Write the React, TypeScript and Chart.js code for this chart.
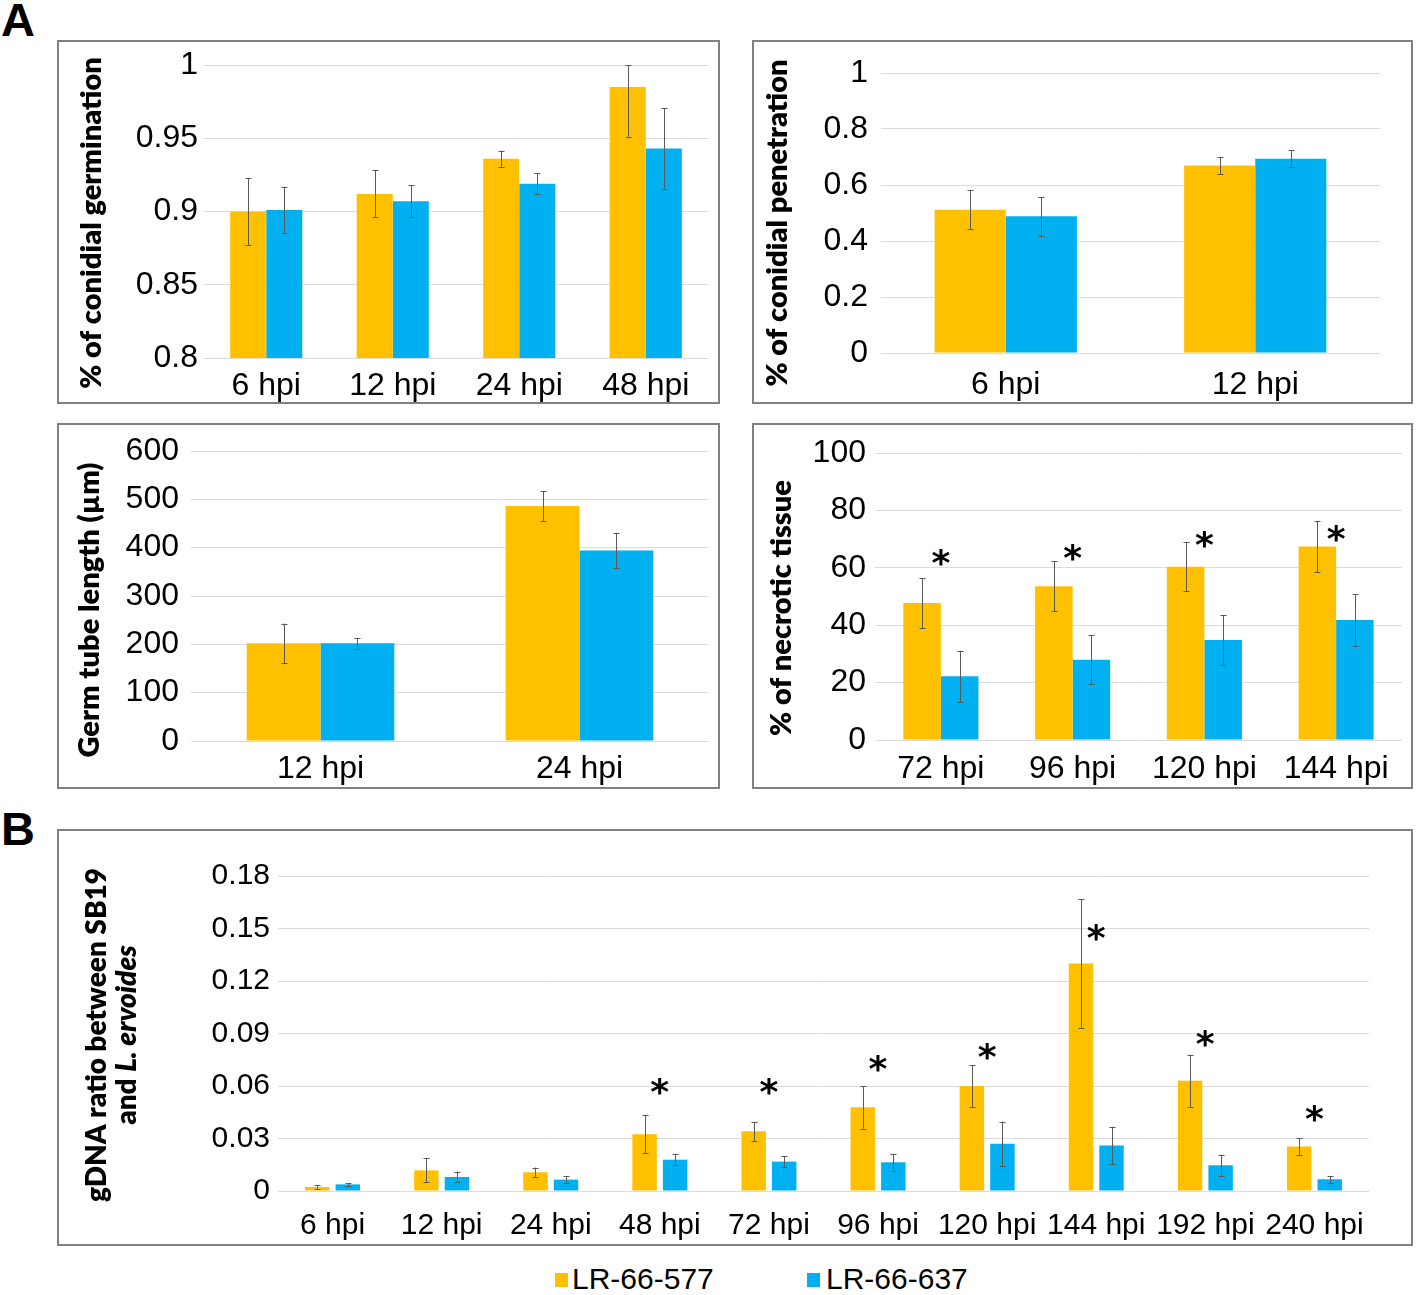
import React, { useEffect, useRef } from 'react';
import { Chart, registerables } from 'chart.js';

Chart.register(...registerables);

// ---------- Series ----------
const seriesNames = ['LR-66-577', 'LR-66-637'];
const seriesColors = ['#FFC000', '#00B0F0'];

// A (top-left): % of conidial germination
const germCategories = ['6 hpi', '12 hpi', '24 hpi', '48 hpi'];
const germ577 = [0.9, 0.912, 0.936, 0.985];
const germ577Err = [0.023, 0.016, 0.0055, 0.034];
const germ637 = [0.901, 0.907, 0.919, 0.943];
const germ637Err = [0.016, 0.011, 0.007, 0.0275];
const germTicks = ['0.8', '0.85', '0.9', '0.95', '1'];

// A (top-right): % of conidial penetration
const penCategories = ['6 hpi', '12 hpi'];
const pen577 = [0.512, 0.67];
const pen577Err = [0.069, 0.031];
const pen637 = [0.488, 0.694];
const pen637Err = [0.07, 0.031];
const penTicks = ['0', '0.2', '0.4', '0.6', '0.8', '1'];

// A (bottom-left): Germ tube length
const tubeCategories = ['12 hpi', '24 hpi'];
const tube577 = [202, 486];
const tube577Err = [41, 31];
const tube637 = [202, 394];
const tube637Err = [11, 37];
const tubeTicks = ['0', '100', '200', '300', '400', '500', '600'];

// A (bottom-right): % of necrotic tissue
const necCategories = ['72 hpi', '96 hpi', '120 hpi', '144 hpi'];
const nec577 = [47.7, 53.6, 60.4, 67.4];
const nec577Err = [8.8, 8.7, 8.6, 9.0];
const nec637 = [22.2, 28.0, 34.8, 41.8];
const nec637Err = [8.9, 8.5, 8.6, 9.0];
const necStars = [63.5, 65.5, 69.7, 72.1];
const necTicks = ['0', '20', '40', '60', '80', '100'];

// B: gDNA ratio
const gdnaCategories = ['6 hpi', '12 hpi', '24 hpi', '48 hpi', '72 hpi', '96 hpi', '120 hpi', '144 hpi', '192 hpi', '240 hpi'];
const gdna577 = [0.0023, 0.0118, 0.0107, 0.0324, 0.0341, 0.0478, 0.06, 0.13, 0.063, 0.0255];
const gdna577Err = [0.001, 0.0069, 0.0027, 0.0108, 0.0054, 0.0122, 0.0118, 0.0366, 0.0149, 0.0048];
const gdna637 = [0.0038, 0.008, 0.0065, 0.0179, 0.0168, 0.0164, 0.027, 0.026, 0.0147, 0.0067];
const gdna637Err = [0.0008, 0.0031, 0.0021, 0.0033, 0.003, 0.0048, 0.0126, 0.0108, 0.006, 0.0019];
const gdnaStars = [null, null, null, 0.0596, 0.0596, 0.0726, 0.0798, 0.148, 0.0869, 0.0444];
const gdnaTicks = ['0', '0.03', '0.06', '0.09', '0.12', '0.15', '0.18'];

// ---------- Layout ----------
const TICK_FAMILY = "'Liberation Sans', Arial, sans-serif";
const TITLE_FAMILY = "Lato, 'Open Sans', sans-serif";
const TITLE_WEIGHT = 800;
const STAR_FONT = "bold 36px 'DejaVu Sans', sans-serif";

type Part = { text: string; italic?: boolean };
type Panel = {
  box: { x: number; y: number; w: number; h: number };
  plot: { l: number; r: number; t: number; b: number };
  categories: string[];
  s1: number[]; e1: number[]; s2: number[]; e2: number[];
  stars?: (number | null)[];
  min: number; max: number; step: number; tickLabels: string[];
  catPct: number; barPct: number;
  tickFont: number; xPad: number; yPad: number;
  title: Part[][]; titleFont: number; titleX: number[]; titleY: number;
};

const panels: Panel[] = [
  {
    box: { x: 57, y: 40, w: 663, h: 364 }, plot: { l: 203, r: 709, t: 65, b: 358 },
    categories: germCategories, s1: germ577, e1: germ577Err, s2: germ637, e2: germ637Err,
    min: 0.8, max: 1, step: 0.05, tickLabels: germTicks, catPct: 0.57, barPct: 1,
    tickFont: 32, xPad: 1, yPad: 5,
    title: [[{ text: '% of conidial germination' }]], titleFont: 29, titleX: [92], titleY: 223,
  },
  {
    box: { x: 752, y: 40, w: 661, h: 364 }, plot: { l: 881, r: 1380, t: 73, b: 353 },
    categories: penCategories, s1: pen577, e1: pen577Err, s2: pen637, e2: pen637Err,
    min: 0, max: 1, step: 0.2, tickLabels: penTicks, catPct: 0.57, barPct: 1,
    tickFont: 32, xPad: 5, yPad: 13,
    title: [[{ text: '% of conidial penetration' }]], titleFont: 29, titleX: [778], titleY: 223,
  },
  {
    box: { x: 57, y: 423, w: 663, h: 366 }, plot: { l: 191, r: 709, t: 441, b: 741 },
    categories: tubeCategories, s1: tube577, e1: tube577Err, s2: tube637, e2: tube637Err,
    min: 0, max: 600, step: 100, tickLabels: tubeTicks, catPct: 0.57, barPct: 1,
    tickFont: 32, xPad: 1, yPad: 12,
    title: [[{ text: 'Germ tube length (µm)' }]], titleFont: 29, titleX: [90], titleY: 610,
  },
  {
    box: { x: 752, y: 423, w: 661, h: 366 }, plot: { l: 875, r: 1402, t: 453, b: 740 },
    categories: necCategories, s1: nec577, e1: nec577Err, s2: nec637, e2: nec637Err, stars: necStars,
    min: 0, max: 100, step: 20, tickLabels: necTicks, catPct: 0.57, barPct: 1,
    tickFont: 32, xPad: 2, yPad: 9,
    title: [[{ text: '% of necrotic tissue' }]], titleFont: 29, titleX: [782], titleY: 608,
  },
  {
    box: { x: 57, y: 829, w: 1356, h: 417 }, plot: { l: 278, r: 1369, t: 876, b: 1191 },
    categories: gdnaCategories, s1: gdna577, e1: gdna577Err, s2: gdna637, e2: gdna637Err, stars: gdnaStars,
    min: 0, max: 0.18, step: 0.03, tickLabels: gdnaTicks, catPct: 0.56, barPct: 0.8,
    tickFont: 30, xPad: 9, yPad: 8,
    title: [
      [{ text: 'gDNA ratio between SB19' }],
      [{ text: 'and ' }, { text: 'L. ervoides', italic: true }],
    ],
    titleFont: 28, titleX: [97, 127], titleY: 1035,
  },
];

function makeDecor(p: Panel) {
  return {
    id: 'decor',
    afterDatasetsDraw(chart: any) {
      const ctx: CanvasRenderingContext2D = chart.ctx;
      const ys = chart.scales.y;
      const xs = chart.scales.x;
      const area = chart.chartArea;
      ctx.save();
      // error bars
      ctx.strokeStyle = '#5a5a5a';
      ctx.lineWidth = 1;
      [[p.s1, p.e1], [p.s2, p.e2]].forEach(([vals, errs], di) => {
        const meta = chart.getDatasetMeta(di);
        meta.data.forEach((el: any, i: number) => {
          const x = Math.round(el.x) + 0.5;
          const yt = Math.max(ys.getPixelForValue(vals[i] + errs[i]), area.top);
          const yb = Math.min(ys.getPixelForValue(vals[i] - errs[i]), area.bottom);
          ctx.beginPath();
          ctx.moveTo(x, yt); ctx.lineTo(x, yb);
          ctx.moveTo(x - 3, Math.round(yt) + 0.5); ctx.lineTo(x + 3, Math.round(yt) + 0.5);
          ctx.moveTo(x - 3, Math.round(yb) + 0.5); ctx.lineTo(x + 3, Math.round(yb) + 0.5);
          ctx.stroke();
        });
      });
      // significance asterisks
      if (p.stars) {
        ctx.fillStyle = '#000';
        ctx.font = STAR_FONT;
        ctx.textAlign = 'left';
        ctx.textBaseline = 'alphabetic';
        p.stars.forEach((v, i) => {
          if (v === null || v === undefined) return;
          const m = ctx.measureText('*');
          const cx = xs.getPixelForValue(i);
          const cy = ys.getPixelForValue(v);
          const gx = cx - (m.actualBoundingBoxRight - m.actualBoundingBoxLeft) / 2 + m.actualBoundingBoxLeft;
          const gy = cy + (m.actualBoundingBoxAscent - m.actualBoundingBoxDescent) / 2;
          ctx.fillText('*', gx, gy);
        });
      }
      ctx.restore();
    },
    afterDraw(chart: any) {
      const ctx: CanvasRenderingContext2D = chart.ctx;
      ctx.save();
      // y-axis title(s)
      ctx.fillStyle = '#000';
      p.title.forEach((parts, li) => {
        ctx.save();
        ctx.translate(p.titleX[li] - p.box.x, p.titleY - p.box.y);
        ctx.rotate(-Math.PI / 2);
        ctx.textBaseline = 'middle';
        ctx.textAlign = 'left';
        const fontOf = (pt: Part) => `${pt.italic ? 'italic ' : ''}${TITLE_WEIGHT} ${p.titleFont}px ${TITLE_FAMILY}`;
        let total = 0;
        parts.forEach((pt) => { ctx.font = fontOf(pt); total += ctx.measureText(pt.text).width; });
        let x = -total / 2;
        parts.forEach((pt) => {
          ctx.font = fontOf(pt);
          ctx.fillText(pt.text, x, 0);
          x += ctx.measureText(pt.text).width;
        });
        ctx.restore();
      });
      // panel frame
      ctx.strokeStyle = '#808080';
      ctx.lineWidth = 2;
      ctx.strokeRect(1, 1, p.box.w - 2, p.box.h - 2);
      ctx.restore();
    },
  };
}

function PanelChart({ panel }: { panel: Panel }) {
  const ref = useRef<HTMLCanvasElement>(null);
  useEffect(() => {
    const p = panel;
    const chart = new Chart(ref.current as HTMLCanvasElement, {
      type: 'bar',
      data: {
        labels: p.categories,
        datasets: [
          { label: seriesNames[0], data: p.s1, backgroundColor: seriesColors[0], borderWidth: 0, categoryPercentage: p.catPct, barPercentage: p.barPct },
          { label: seriesNames[1], data: p.s2, backgroundColor: seriesColors[1], borderWidth: 0, categoryPercentage: p.catPct, barPercentage: p.barPct },
        ],
      },
      options: {
        responsive: false,
        animation: false,
        devicePixelRatio: 1,
        events: [],
        layout: { padding: { left: 0, top: p.plot.t - p.box.y, right: p.box.x + p.box.w - p.plot.r, bottom: 0 } },
        plugins: { legend: { display: false }, tooltip: { enabled: false } },
        scales: {
          x: {
            grid: { display: false },
            border: { display: false },
            ticks: {
              color: '#000', padding: p.xPad, maxRotation: 0, autoSkip: false,
              font: { family: TICK_FAMILY, size: p.tickFont, lineHeight: 1.2 },
            },
            afterFit: (s: any) => { s.height = p.box.y + p.box.h - p.plot.b; },
          },
          y: {
            min: p.min, max: p.max,
            grid: { color: '#dcdcdc', lineWidth: 1, drawTicks: false },
            border: { display: false },
            ticks: {
              stepSize: p.step, color: '#000', padding: p.yPad,
              font: { family: TICK_FAMILY, size: p.tickFont, lineHeight: 1 },
              callback: (_v: any, i: number) => p.tickLabels[i],
            },
            afterFit: (s: any) => { s.width = p.plot.l - p.box.x; },
          },
        },
      } as any,
      plugins: [makeDecor(p)],
    });
    return () => chart.destroy();
  }, [panel]);
  return (
    <canvas
      ref={ref}
      width={panel.box.w}
      height={panel.box.h}
      style={{ position: 'absolute', left: panel.box.x, top: panel.box.y, width: panel.box.w, height: panel.box.h }}
    />
  );
}

export default function App() {
  const letter: React.CSSProperties = {
    position: 'absolute', left: 1, fontFamily: TICK_FAMILY, fontWeight: 'bold', fontSize: 47, lineHeight: '47px', color: '#000',
  };
  const legendText: React.CSSProperties = {
    position: 'absolute', top: 1264, fontFamily: TICK_FAMILY, fontSize: 30, lineHeight: '30px', whiteSpace: 'nowrap', color: '#000',
  };
  return (
    <div style={{ position: 'absolute', left: 0, top: 0, width: 1418, height: 1295, background: '#fff', overflow: 'hidden' }}>
      <div style={{ ...letter, top: -4 }}>A</div>
      <div style={{ ...letter, top: 805 }}>B</div>
      {panels.map((p, i) => <PanelChart key={i} panel={p} />)}
      <div style={{ position: 'absolute', left: 555, top: 1273, width: 13, height: 14, background: seriesColors[0] }} />
      <div style={{ ...legendText, left: 572 }}>{seriesNames[0]}</div>
      <div style={{ position: 'absolute', left: 807, top: 1273, width: 13, height: 14, background: seriesColors[1] }} />
      <div style={{ ...legendText, left: 826 }}>{seriesNames[1]}</div>
    </div>
  );
}
